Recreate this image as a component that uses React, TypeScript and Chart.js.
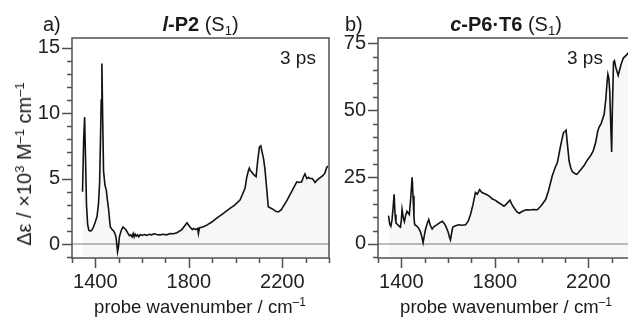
import React, { useEffect, useRef } from "react";
import { Chart, registerables } from "chart.js";
Chart.register(...registerables);

// ---- data ----
const lp2Wavenumber = [
  1345, 1350, 1354, 1358, 1362, 1367, 1372, 1378, 1385, 1392, 1400, 1407, 1413, 1418, 1422, 1425, 1428, 1431, 1435, 1441,
  1447, 1452, 1457, 1461, 1464, 1470, 1478, 1484, 1488, 1491, 1495, 1499, 1503, 1510, 1518, 1525, 1532, 1540, 1546, 1552,
  1557, 1562, 1566, 1570, 1575, 1580, 1586, 1592, 1600, 1610, 1620, 1630, 1640, 1652, 1663, 1676, 1690, 1705, 1720, 1735,
  1749, 1770, 1785, 1792, 1805, 1815, 1820, 1830, 1838, 1841, 1846, 1860, 1877, 1900, 1918, 1945, 1976, 1995, 2019, 2030,
  2041, 2048, 2055, 2059, 2064, 2069, 2078, 2088, 2095, 2102, 2108, 2114, 2120, 2126, 2133, 2140, 2150, 2161, 2172, 2183,
  2195, 2207, 2219, 2240, 2262, 2272, 2283, 2290, 2297, 2305, 2312, 2318, 2328, 2335, 2340, 2350, 2361, 2372, 2382, 2390,
  2396,
];
const lp2Delta = [
  4.0, 8.0, 9.7, 6.5, 3.0, 1.5, 1.05, 0.98, 1.05, 1.3, 1.7, 2.1, 3.0, 4.6, 8.0, 11.0, 13.8, 10.0, 5.6, 4.5,
  4.1, 3.3, 2.6, 1.8, 1.3, 1.15, 1.0, 0.8, 0.55, 0.1, -0.6, -0.2, 0.55, 1.0, 1.3, 1.2, 1.05, 0.8, 0.63, 0.7,
  0.55, 0.8, 0.55, 0.75, 0.6, 0.7, 0.55, 0.72, 0.65, 0.72, 0.66, 0.74, 0.7, 0.78, 0.73, 0.7, 0.74, 0.7, 0.8, 0.78,
  0.86, 1.1, 1.45, 1.62, 1.3, 1.1, 1.19, 1.1, 1.2, 0.8, 1.25, 1.3, 1.44, 1.7, 1.96, 2.3, 2.72, 2.95, 3.36, 3.8,
  4.3, 5.1, 5.6, 5.8, 5.6, 5.5, 5.3, 5.15, 6.4, 7.4, 7.5, 7.0, 6.5, 5.7, 4.3, 2.85, 2.75, 2.65, 2.5, 2.45,
  2.6, 2.95, 3.3, 4.0, 4.75, 4.7, 4.75, 5.1, 5.35, 5.0, 5.1, 5.0, 5.0, 4.85, 4.7, 4.9, 5.05, 5.2, 5.4, 5.85,
  5.95,
];

const cp6Wavenumber = [
  1345, 1350, 1355, 1360, 1365, 1369, 1373, 1377, 1385, 1392, 1396, 1400, 1403, 1408, 1413, 1418, 1424, 1430, 1434, 1440,
  1446, 1450, 1454, 1457, 1465, 1474, 1481, 1488, 1493, 1498, 1503, 1510, 1517, 1524, 1532, 1540, 1553, 1565, 1575, 1585,
  1592, 1600, 1606, 1610, 1615, 1620, 1632, 1646, 1660, 1675, 1686, 1696, 1706, 1717, 1725, 1735, 1745, 1760, 1775, 1790,
  1803, 1815, 1825, 1839, 1850, 1865, 1872, 1882, 1895, 1905, 1920, 1935, 1950, 1965, 1982, 2000, 2018, 2030, 2046, 2058,
  2068, 2082, 2094, 2100, 2105, 2110, 2118, 2125, 2132, 2142, 2151, 2165, 2182, 2197, 2211, 2222, 2232, 2240, 2246, 2255,
  2268, 2275, 2280, 2284, 2288, 2292, 2296, 2300, 2303, 2308, 2312, 2318, 2328, 2340, 2350, 2362, 2372, 2382,
];
const cp6Delta = [
  10.6, 7.5, 6.6, 9.0, 14.0, 18.6, 11.0, 7.8, 7.2, 6.5, 6.3, 9.0, 12.9, 10.0, 8.4, 10.5, 12.2, 11.5, 11.0, 17.0,
  24.9, 18.0, 10.0, 7.2, 6.8, 5.9, 4.7, 2.5, 0.5, 3.0, 5.3, 7.5, 9.1, 7.0, 5.6, 6.5, 7.2, 8.0, 8.5, 7.5,
  6.3, 4.5, 2.5, 1.5, 4.0, 6.3, 6.8, 7.2, 7.0, 7.2, 8.5, 11.0, 14.5, 19.2, 18.6, 20.3, 19.2, 18.7, 18.0, 16.8,
  16.3, 15.5, 15.0, 14.1, 15.0, 16.4, 15.0, 13.5, 12.0, 11.5, 12.3, 12.8, 12.7, 12.9, 12.8, 14.5, 16.7, 20.0, 25.5, 28.5,
  30.5, 36.9, 41.7, 42.0, 42.5, 38.0, 31.0, 28.5, 27.0, 26.3, 26.0, 27.5, 29.3, 31.5, 33.1, 35.0, 38.1, 42.0, 43.6, 45.0,
  48.5, 54.0, 60.0, 63.5, 62.0, 57.0, 45.0, 34.4, 50.0, 68.0, 68.5, 66.0, 63.0, 67.0, 69.5, 70.5, 71.6, 72.5,
];

const xTickLabels = [1400, 1800, 2200];
const lp2YTickLabels = [0, 5, 10, 15];
const cp6YTickLabels = [0, 25, 50, 75];

const FONT = "'Liberation Sans', Arial, Helvetica, sans-serif";
const AXIS = "#505050";

const isIn = (list: number[], v: number) => list.some((l) => Math.abs(l - v) < 1e-6);

const framePlugin = {
  id: "frameTicks",
  beforeDatasetsDraw(chart: any) {
    const { ctx, chartArea } = chart;
    const y = chart.scales.y;
    const py = y.getPixelForValue(0);
    ctx.save();
    ctx.strokeStyle = "#a8a8a8";
    ctx.lineWidth = 1.5;
    ctx.beginPath();
    ctx.moveTo(chartArea.left, py);
    ctx.lineTo(chartArea.right, py);
    ctx.stroke();
    ctx.restore();
  },
  afterDraw(chart: any, _args: any, opts: any) {
    const { ctx, chartArea } = chart;
    const { left, right, top, bottom } = chartArea;
    const xs = chart.scales.x;
    const ys = chart.scales.y;
    ctx.save();
    ctx.strokeStyle = AXIS;
    ctx.lineWidth = 1.5;
    ctx.strokeRect(left, top, right - left, bottom - top);
    ctx.beginPath();
    for (let v = xs.min; v <= xs.max + 1e-6; v += 100) {
      const px = Math.round(xs.getPixelForValue(v)) + 0.5;
      const len = isIn(xTickLabels, v) ? 10 : 5;
      ctx.moveTo(px, bottom);
      ctx.lineTo(px, bottom + len);
    }
    const step = opts.yMinor;
    for (let v = Math.ceil(ys.min / step) * step; v <= ys.max + 1e-6; v += step) {
      const p = Math.round(ys.getPixelForValue(v)) + 0.5;
      const len = isIn(opts.yLabels, v) ? 10 : 5;
      ctx.moveTo(left, p);
      ctx.lineTo(left - len, p);
    }
    ctx.stroke();
    ctx.restore();
  },
};

function makeConfig(
  xs: number[],
  ys: number[],
  yMin: number,
  yMax: number,
  yMinor: number,
  yLabels: number[],
  yWidth: number,
  padRight: number
): any {
  return {
    type: "line",
    data: {
      datasets: [
        {
          data: xs.map((x, i) => ({ x, y: ys[i] })),
          borderColor: "#111111",
          borderWidth: 1.6,
          pointRadius: 0,
          tension: 0,
          fill: "start",
          backgroundColor: "rgba(0,0,0,0.03)",
        },
      ],
    },
    options: {
      animation: false,
      responsive: false,
      devicePixelRatio: 1,
      layout: { padding: { top: 38, right: padRight, left: 0, bottom: 0 } },
      plugins: {
        legend: { display: false },
        tooltip: { enabled: false },
        frameTicks: { yMinor, yLabels },
      },
      scales: {
        x: {
          type: "linear",
          min: 1300,
          max: 2400,
          grid: { display: false, drawTicks: false },
          border: { display: false },
          afterBuildTicks: (s: any) => {
            s.ticks = xTickLabels.map((v) => ({ value: v }));
          },
          afterFit: (s: any) => {
            s.height = 59;
          },
          ticks: {
            autoSkip: false,
            maxRotation: 0,
            padding: 12,
            color: "#222",
            font: { family: FONT, size: 20 },
            callback: (v: number) => String(v),
          },
        },
        y: {
          type: "linear",
          min: yMin,
          max: yMax,
          grid: { display: false, drawTicks: false },
          border: { display: false },
          afterBuildTicks: (s: any) => {
            s.ticks = yLabels.map((v) => ({ value: v }));
          },
          afterFit: (s: any) => {
            s.width = yWidth;
          },
          ticks: {
            autoSkip: false,
            padding: 12,
            color: "#222",
            font: { family: FONT, size: 20 },
            callback: (v: number) => String(v),
          },
        },
      },
    },
    plugins: [framePlugin],
  };
}

const textBase: React.CSSProperties = {
  position: "absolute",
  fontFamily: FONT,
  fontSize: 18.5,
  lineHeight: "19px",
  color: "#1a1a1a",
  whiteSpace: "nowrap",
};
const supStyle: React.CSSProperties = { fontSize: 12, verticalAlign: 7 };

export default function App() {
  const leftRef = useRef<HTMLCanvasElement>(null);
  const rightRef = useRef<HTMLCanvasElement>(null);

  useEffect(() => {
    const c1 = new Chart(
      leftRef.current as HTMLCanvasElement,
      makeConfig(lp2Wavenumber, lp2Delta, -1.07, 15.74, 1, lp2YTickLabels, 72, 11)
    );
    const c2 = new Chart(
      rightRef.current as HTMLCanvasElement,
      makeConfig(cp6Wavenumber, cp6Delta, -5.25, 77, 5, cp6YTickLabels, 38, 5)
    );
    return () => {
      c1.destroy();
      c2.destroy();
    };
  }, []);

  return (
    <div
      style={{
        position: "fixed",
        left: 0,
        top: 0,
        width: 628,
        height: 317,
        overflow: "hidden",
        background: "#fff",
      }}
    >
      <canvas ref={leftRef} width={340} height={317} style={{ position: "absolute", left: 0, top: 0 }} />
      <canvas ref={rightRef} width={300} height={317} style={{ position: "absolute", left: 340, top: 0 }} />

      {/* panel titles */}
      <div style={{ ...textBase, fontSize: 20, lineHeight: "20px", left: 43, top: 14 }}>a)</div>
      <div
        style={{ ...textBase, fontSize: 20, lineHeight: "20px", left: 200.5, top: 14, transform: "translateX(-50%)" }}
      >
        <b>
          <i>l</i>-P2
        </b>{" "}
        (S<sub style={{ fontSize: 13, verticalAlign: -4 }}>1</sub>)
      </div>
      <div style={{ ...textBase, fontSize: 20, lineHeight: "20px", left: 345, top: 14 }}>b)</div>
      <div
        style={{ ...textBase, fontSize: 20, lineHeight: "20px", left: 506, top: 14, transform: "translateX(-50%)" }}
      >
        <b>
          <i>c</i>-P6·T6
        </b>{" "}
        (S<sub style={{ fontSize: 13, verticalAlign: -4 }}>1</sub>)
      </div>

      {/* delay labels */}
      <div style={{ ...textBase, fontSize: 19, left: 280, top: 48 }}>3 ps</div>
      <div style={{ ...textBase, fontSize: 19, left: 567, top: 48 }}>3 ps</div>

      {/* x-axis titles */}
      <div style={{ ...textBase, left: 200, top: 293, transform: "translateX(-50%)" }}>
        probe wavenumber / cm<sup style={supStyle}>–1</sup>
      </div>
      <div style={{ ...textBase, left: 506, top: 293, transform: "translateX(-50%)" }}>
        probe wavenumber / cm<sup style={supStyle}>–1</sup>
      </div>

      {/* y-axis title */}
      <div
        style={{
          ...textBase,
          fontSize: 20,
          lineHeight: "20px",
          left: 22,
          top: 164,
          transform: "translate(-50%, -50%) rotate(-90deg)",
        }}
      >
        Δε / ×10<sup style={{ fontSize: 13, verticalAlign: 7 }}>3</sup> M
        <sup style={{ fontSize: 13, verticalAlign: 7 }}>–1</sup> cm<sup style={{ fontSize: 13, verticalAlign: 7 }}>–1</sup>
      </div>
    </div>
  );
}
